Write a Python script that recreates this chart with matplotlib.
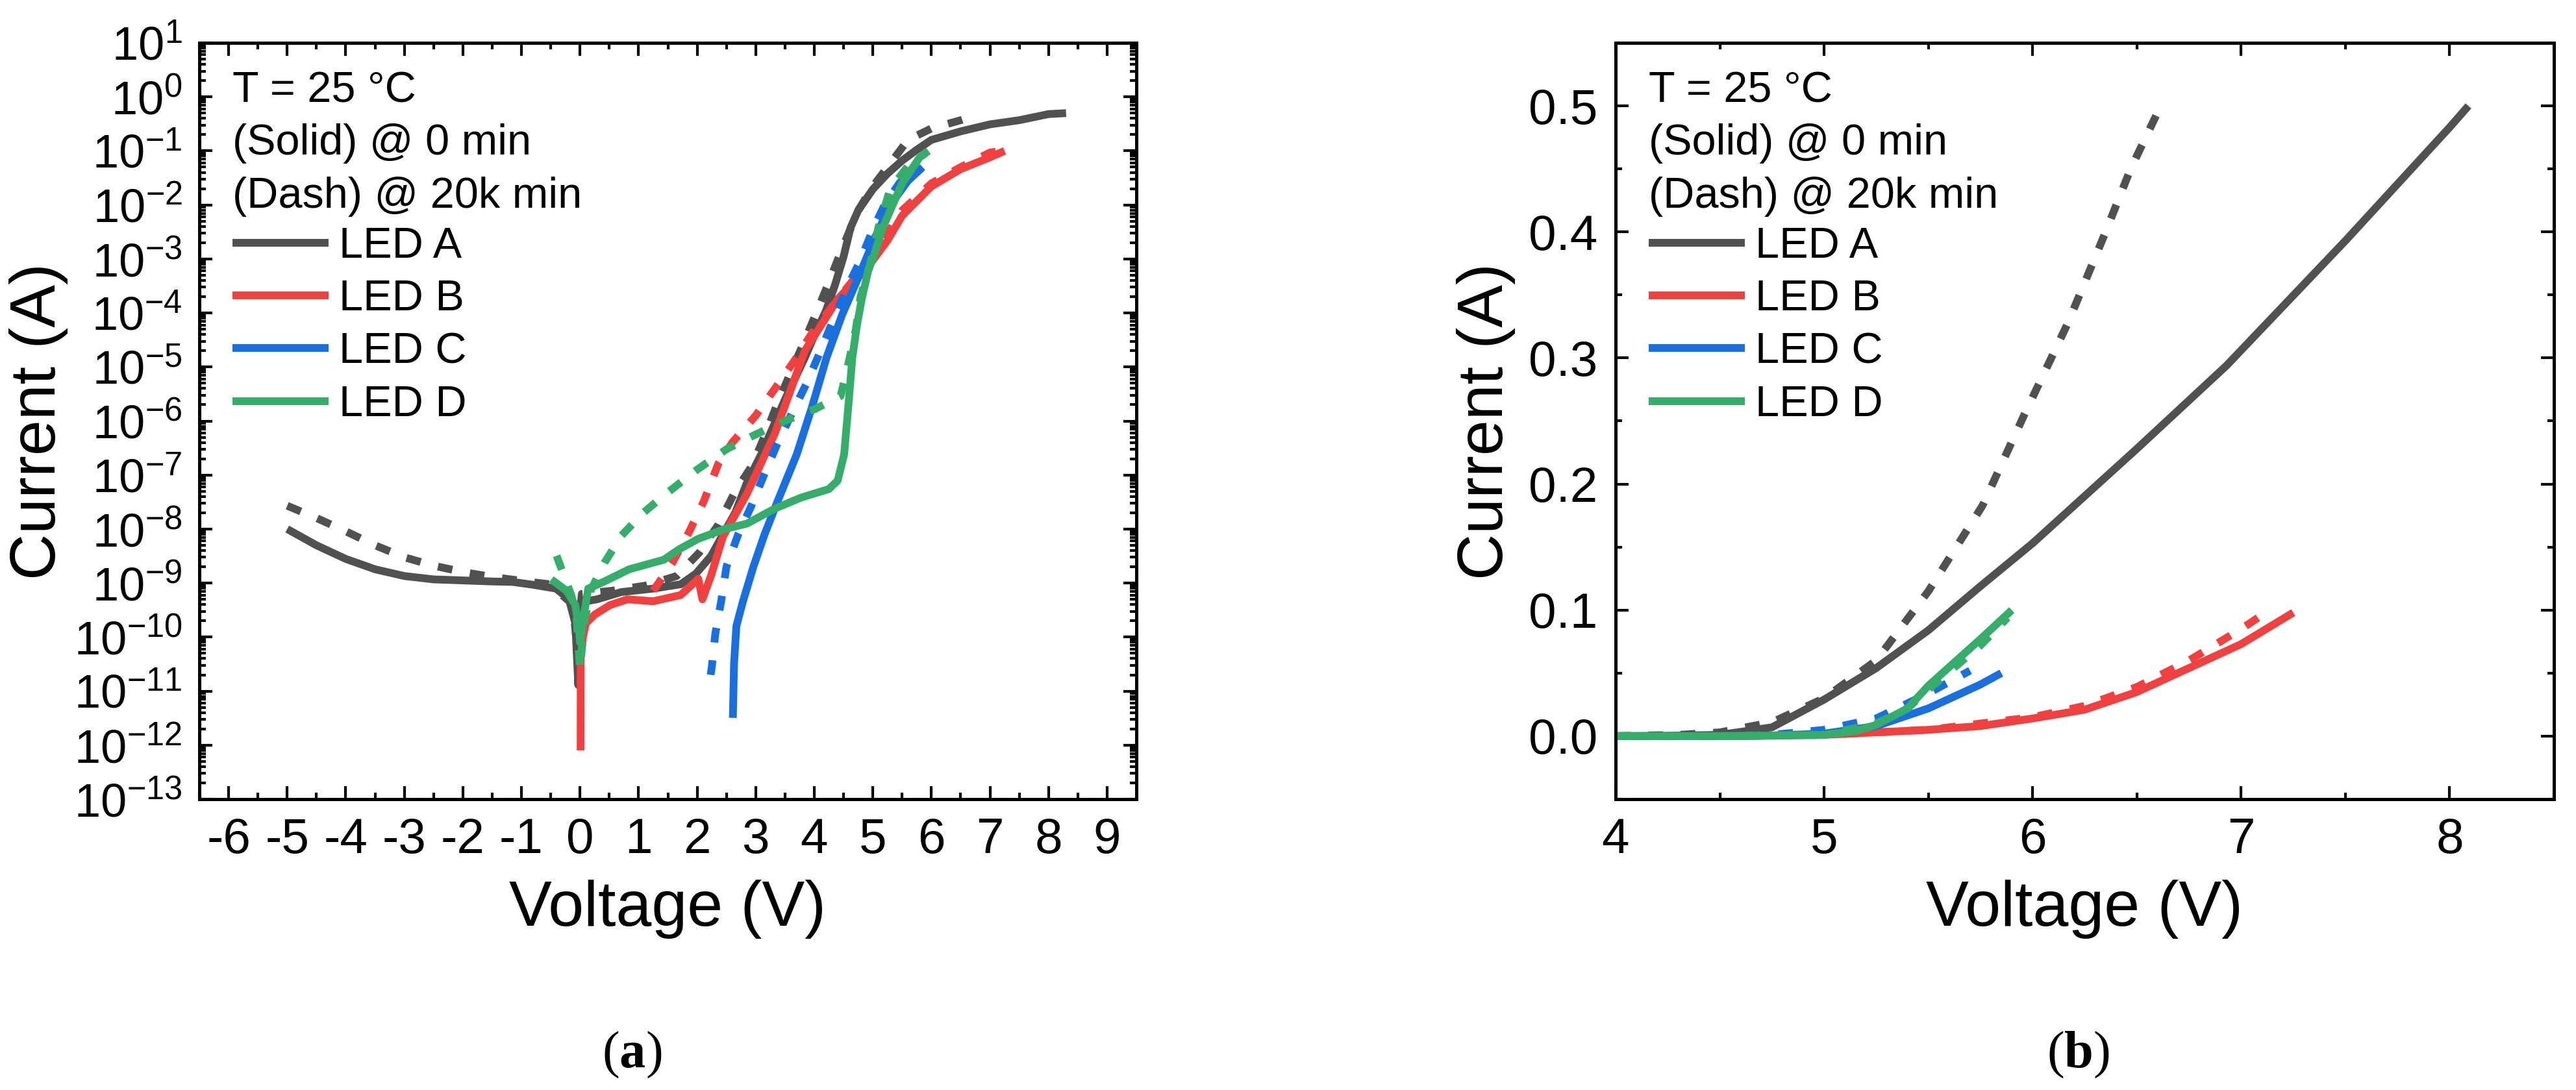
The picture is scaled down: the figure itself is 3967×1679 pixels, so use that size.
import numpy as np
import matplotlib
matplotlib.use("Agg")
import matplotlib.pyplot as plt
from matplotlib.ticker import LogLocator, LogFormatterSciNotation, MultipleLocator, FormatStrFormatter, NullFormatter

# ---- (a) semi-log I-V, voltage in V, current in A ----
a_sol_v = [-5.0, -4.5, -4.0, -3.5, -3.0, -2.5, -2.0, -1.5, -1.15, -0.8, -0.41, -0.19, -0.08, -0.03, 0.01,
           0.05, 0.29, 0.7, 1.25, 1.72, 1.98, 2.24, 2.44, 2.65, 2.85, 3.1, 3.5, 3.84, 4.0, 4.2, 4.35,
           4.5, 4.62, 4.75, 5.0, 5.25, 5.5, 5.75, 6.0, 6.5, 7.0, 7.5, 8.0, 8.3]
a_sol_i = [1.0e-8, 5.0e-9, 2.8e-9, 1.8e-9, 1.35e-9, 1.17e-9, 1.12e-9, 1.07e-9, 1.05e-9, 9.3e-10, 7.9e-10,
           5.1e-10, 1.8e-10, 1.3e-11, 2.0e-10, 4.5e-10, 5.0e-10, 6.8e-10, 7.9e-10, 9.5e-10, 1.5e-9, 3.2e-9,
           7.9e-9, 2.0e-8, 7.2e-8, 2.5e-7, 2.5e-6, 1.5e-5, 3.8e-5, 1.1e-4, 3.2e-4, 1.1e-3, 3.8e-3, 7.9e-3,
           0.0195, 0.038, 0.066, 0.105, 0.16, 0.23, 0.31, 0.37, 0.48, 0.5]
a_dsh_v = [-5.0, -4.5, -4.0, -3.5, -3.0, -2.5, -2.0, -1.5, -1.0, -0.52, -0.12, -0.05, 0.03, 0.54, 1.1,
           1.65, 2.03, 2.36, 2.65, 2.94, 3.16, 3.37, 3.59, 3.82, 4.05, 4.27, 4.48, 4.75, 5.0, 5.3, 5.6,
           6.0, 6.5, 6.8]
a_dsh_i = [2.7e-8, 1.6e-8, 9.1e-9, 5.0e-9, 3.0e-9, 2.1e-9, 1.6e-9, 1.3e-9, 1.1e-9, 9.5e-10, 4.0e-10,
           6.3e-11, 6.3e-10, 7.2e-10, 8.9e-10, 1.35e-9, 3.6e-9, 1.2e-8, 5.0e-8, 1.5e-7, 5.5e-7, 2.1e-6,
           7.6e-6, 2.8e-5, 1.1e-4, 4.2e-4, 1.6e-3, 7.9e-3, 0.022, 0.059, 0.16, 0.26, 0.37, 0.48]

b_sol_v = [0.01, 0.012, 0.05, 0.1, 0.25, 0.51, 0.81, 1.25, 1.72, 2.02, 2.09, 2.24, 2.44, 2.85, 3.33,
           3.84, 4.4, 4.92, 5.25, 5.5, 6.0, 6.5, 7.0, 7.25]
b_sol_i = [8.0e-13, 4.0e-11, 1.0e-10, 1.8e-10, 2.6e-10, 3.9e-10, 5.0e-10, 4.6e-10, 6.0e-10, 1.2e-9,
           5.0e-10, 1.4e-9, 7.2e-9, 4.5e-8, 6.0e-7, 2.0e-5, 1.8e-4, 7.2e-4, 2.2e-3, 6.3e-3, 0.022,
           0.046, 0.076, 0.1]
b_dsh_v = [1.25, 1.58, 1.86, 2.11, 2.36, 2.6, 3.0, 3.33, 3.66, 3.96, 4.29, 4.66, 5.03, 5.5, 6.0, 6.5,
           7.0, 7.2]
b_dsh_i = [7.2e-10, 2.4e-9, 8.7e-9, 3.2e-8, 1.6e-7, 4.0e-7, 1.26e-6, 4.0e-6, 1.3e-5, 4.2e-5, 1.26e-4,
           4.0e-4, 1.26e-3, 7.9e-3, 0.025, 0.05, 0.093, 0.1]

c_sol_v = [2.61, 2.63, 2.67, 2.78, 2.96, 3.15, 3.37, 3.7, 3.96, 4.21, 4.48, 4.77, 5.03, 5.3, 5.6, 5.85]
c_sol_i = [3.2e-12, 3.2e-11, 1.6e-10, 4.5e-10, 2.0e-9, 7.9e-9, 3.2e-8, 2.4e-7, 1.8e-6, 1.5e-5, 9.5e-5,
           5.0e-4, 2.4e-3, 0.01, 0.028, 0.05]
c_dsh_v = [2.23, 2.25, 2.31, 2.41, 2.5, 2.7, 2.92, 3.15, 3.37, 3.62, 3.87, 4.1, 4.32, 4.55, 4.79, 5.0,
           5.2, 5.45, 5.7]
c_dsh_i = [2.0e-11, 2.8e-11, 1.15e-10, 4.6e-10, 2.0e-9, 7.9e-9, 2.6e-8, 1.05e-7, 3.8e-7, 1.4e-6, 5.0e-6,
           1.9e-5, 7.2e-5, 2.8e-4, 9.5e-4, 3.5e-3, 0.01, 0.025, 0.05]

d_sol_v = [-0.49, -0.23, -0.08, -0.02, 0.0, 0.05, 0.14, 0.4, 0.84, 1.43, 1.69, 2.02, 2.47, 2.85, 3.33,
           3.77, 4.25, 4.4, 4.51, 4.59, 4.65, 4.73, 4.81, 4.92, 5.03, 5.17, 5.5, 5.8, 5.95]
d_sol_i = [1.17e-9, 7.2e-10, 3.9e-10, 1.5e-10, 8.0e-11, 2.0e-10, 7.9e-10, 1.05e-9, 1.8e-9, 2.7e-9, 4.2e-9,
           6.6e-9, 1.0e-8, 1.26e-8, 2.4e-8, 3.8e-8, 5.5e-8, 7.9e-8, 2.4e-7, 2.4e-6, 1.5e-5, 6.0e-5,
           1.8e-4, 6.0e-4, 1.26e-3, 3.8e-3, 0.025, 0.076, 0.1]
d_dsh_v = [-0.4, -0.15, -0.06, 0.0, 0.07, 0.18, 0.42, 0.71, 1.08, 1.48, 2.0, 2.5, 2.98, 3.49, 4.01, 4.45,
           4.59, 4.71, 4.79, 4.95, 5.1, 5.3, 5.6, 5.9]
d_dsh_i = [3.2e-9, 6.0e-10, 2.5e-10, 2.5e-11, 1.8e-10, 7.2e-10, 2.4e-9, 7.6e-9, 2.0e-8, 4.6e-8, 1.26e-7,
           3.0e-7, 5.5e-7, 1.0e-6, 1.66e-6, 2.9e-6, 1.26e-5, 5.0e-5, 2.0e-4, 7.6e-4, 4.0e-3, 0.02, 0.052,
           0.091]

# ---- (b) linear I-V ----
la_sol_v = [4.0, 4.25, 4.5, 4.75, 5.0, 5.25, 5.5, 5.75, 6.0, 6.5, 6.93, 7.5, 8.0, 8.09]
la_sol_i = [0.0, 0.0003, 0.001, 0.007, 0.029, 0.054, 0.084, 0.119, 0.153, 0.228, 0.294, 0.393, 0.483, 0.5]
la_dsh_v = [4.0, 4.3, 4.5, 4.75, 5.0, 5.25, 5.5, 5.76, 5.96, 6.17, 6.35, 6.47, 6.6]
la_dsh_i = [0.0, 0.001, 0.003, 0.011, 0.03, 0.06, 0.115, 0.183, 0.255, 0.328, 0.40, 0.45, 0.495]
lb_sol_v = [4.0, 4.5, 5.0, 5.25, 5.5, 5.75, 6.0, 6.25, 6.5, 6.75, 7.0, 7.25]
lb_sol_i = [0.0, 0.0, 0.001, 0.003, 0.005, 0.008, 0.014, 0.021, 0.035, 0.054, 0.073, 0.098]
lb_dsh_v = [4.0, 4.5, 5.0, 5.5, 6.0, 6.25, 6.5, 6.75, 7.0, 7.1]
lb_dsh_i = [0.0, 0.0, 0.001, 0.005, 0.015, 0.024, 0.039, 0.06, 0.085, 0.096]
lc_sol_v = [4.0, 4.5, 4.75, 5.0, 5.25, 5.5, 5.75, 5.85]
lc_sol_i = [0.0, 0.0, 0.0005, 0.002, 0.008, 0.022, 0.041, 0.05]
lc_dsh_v = [4.0, 4.5, 4.75, 5.0, 5.25, 5.5, 5.7]
lc_dsh_i = [0.0, 0.0, 0.001, 0.005, 0.014, 0.034, 0.052]
ld_sol_v = [4.0, 4.5, 4.75, 5.0, 5.15, 5.25, 5.4, 5.5, 5.75, 5.9]
ld_sol_i = [0.0, 0.0, 0.0003, 0.001, 0.004, 0.009, 0.022, 0.04, 0.077, 0.1]
ld_dsh_v = [4.0, 4.5, 5.0, 5.25, 5.4, 5.5, 5.75, 5.88]
ld_dsh_i = [0.0, 0.0, 0.001, 0.01, 0.022, 0.037, 0.072, 0.094]

names = ["LED A", "LED B", "LED C", "LED D"]
colors = ["#515151", "#F14040", "#1A6FDF", "#37AD6B"]
header = ["T = 25 \u00b0C", "(Solid) @ 0 min", "(Dash) @ 20k min"]

plt.rcParams['font.family'] = ['Liberation Sans', 'DejaVu Sans']
plt.rcParams['mathtext.fontset'] = 'custom'
plt.rcParams['mathtext.rm'] = 'Liberation Sans'
plt.rcParams['mathtext.it'] = 'Liberation Sans:italic'
plt.rcParams['mathtext.bf'] = 'Liberation Serif:bold'

W, H = 3967, 1679
fig = plt.figure(figsize=(W / 100, H / 100), dpi=100)
ax1 = fig.add_axes([307 / W, 1 - 1231 / H, 1443 / W, 1165 / H])
ax2 = fig.add_axes([2488 / W, 1 - 1231 / H, 1445 / W, 1165 / H])

LW = 8.6
DASH = (0, (1.9, 2.3))

log_sets = [(a_sol_v, a_sol_i, a_dsh_v, a_dsh_i), (b_sol_v, b_sol_i, b_dsh_v, b_dsh_i),
            (c_sol_v, c_sol_i, c_dsh_v, c_dsh_i), (d_sol_v, d_sol_i, d_dsh_v, d_dsh_i)]
lin_sets = [(la_sol_v, la_sol_i, la_dsh_v, la_dsh_i), (lb_sol_v, lb_sol_i, lb_dsh_v, lb_dsh_i),
            (lc_sol_v, lc_sol_i, lc_dsh_v, lc_dsh_i), (ld_sol_v, ld_sol_i, ld_dsh_v, ld_dsh_i)]

for ax, sets in ((ax1, log_sets), (ax2, lin_sets)):
    for (sv, si, dv, di), c, n in zip(sets, colors, names):
        ax.plot(dv, di, color=c, lw=LW, linestyle=DASH)
        ax.plot(sv, si, color=c, lw=LW, label=n, solid_capstyle='butt')

ax1.set_yscale('log')
ax1.set_xlim(-6.5, 9.5)
ax1.set_ylim(1e-13, 1e1)
ax1.xaxis.set_major_locator(MultipleLocator(1))
ax1.xaxis.set_minor_locator(MultipleLocator(0.5))
ax1.xaxis.set_major_formatter(FormatStrFormatter('%d'))
ax1.yaxis.set_major_locator(LogLocator(base=10, numticks=100))
ax1.yaxis.set_minor_locator(LogLocator(base=10, subs=np.arange(2, 10), numticks=100))
ax1.yaxis.set_major_formatter(LogFormatterSciNotation())
ax1.yaxis.set_minor_formatter(NullFormatter())

ax2.set_xlim(4, 8.5)
ax2.set_ylim(-0.05, 0.55)
ax2.xaxis.set_major_locator(MultipleLocator(1))
ax2.xaxis.set_minor_locator(MultipleLocator(0.5))
ax2.yaxis.set_major_locator(MultipleLocator(0.1))
ax2.yaxis.set_minor_locator(MultipleLocator(0.05))
ax2.yaxis.set_major_formatter(FormatStrFormatter('%.1f'))

for ax in (ax1, ax2):
    for sp in ax.spines.values():
        sp.set_linewidth(3.6)
    ax.tick_params(which='both', direction='in', top=True, right=True, width=3)
    ax.tick_params(which='major', length=14.5, labelsize=55, pad=20)
    ax.tick_params(which='minor', length=7.5)
    for k, line in enumerate(header):
        ax.text(0.0353, 1 - (157 + 81.5 * k - 66) / 1165, line, transform=ax.transAxes,
                fontsize=48, va='baseline', ha='left')
    ax.legend(loc='upper left', bbox_to_anchor=(0.0353, 1 - (349 - 66) / 1165), frameon=False,
              fontsize=48, borderpad=0, borderaxespad=0, handlelength=2.22, handletextpad=0.24,
              labelspacing=0.29)

ax1.tick_params(axis='y', which='major', labelsize=52, pad=19)

fig.text(60 / W, 1 - 649 / H, "Current (A)", rotation=90, ha='center', va='center', fontsize=71)
fig.text(2288 / W, 1 - 649 / H, "Current (A)", rotation=90, ha='center', va='center', fontsize=71)
fig.text(1028 / W, 1 - 1426 / H, "Voltage (V)", ha='center', va='baseline', fontsize=71)
fig.text(3210 / W, 1 - 1426 / H, "Voltage (V)", ha='center', va='baseline', fontsize=71)
fig.text(973 / W, 1 - 1644 / H, "(" + r"$\mathbf{a}$" + ")", ha='center', va='baseline', fontsize=58,
         family='Liberation Serif')
fig.text(3200 / W, 1 - 1644 / H, "(" + r"$\mathbf{b}$" + ")", ha='center', va='baseline', fontsize=58,
         family='Liberation Serif')

fig.savefig("out.png", dpi=100)
